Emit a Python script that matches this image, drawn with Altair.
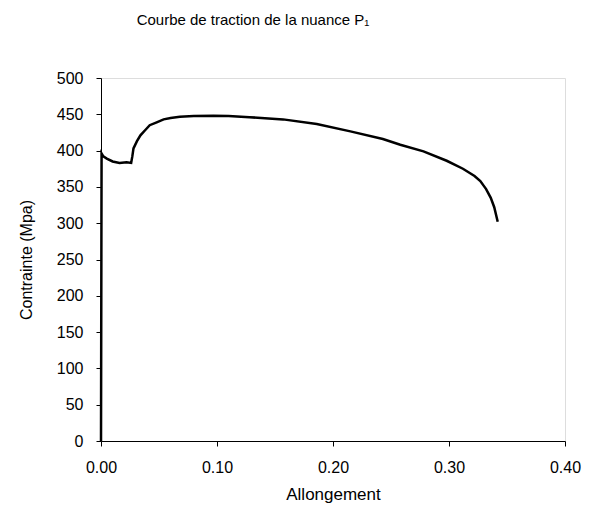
import altair as alt
import pandas as pd

allongement = [0.0, 0.0005, 0.002, 0.005, 0.010, 0.016, 0.022, 0.026, 0.027, 0.028,
               0.031, 0.034, 0.038, 0.042, 0.048, 0.054, 0.060, 0.068, 0.080, 0.097,
               0.110, 0.128, 0.157, 0.186, 0.215, 0.243, 0.258, 0.278, 0.298, 0.312,
               0.322, 0.327, 0.332, 0.336, 0.339, 0.342]
contrainte = [0, 396, 392, 389, 385, 383, 384, 383, 392, 403,
              413, 421, 428, 435, 439, 443, 445, 446.5, 447.5, 448,
              447.5, 446, 443, 436.5, 426.5, 416, 408, 399, 386, 375,
              365, 358, 347, 335, 322, 302]

df = pd.DataFrame({"Allongement": allongement, "Contrainte": contrainte,
                   "order": list(range(len(allongement)))})

FONT = "Liberation Sans"

chart = alt.Chart(df).mark_line(color="black", strokeWidth=2.5).encode(
    x=alt.X("Allongement:Q",
            scale=alt.Scale(domain=[0, 0.4], nice=False, zero=False),
            axis=alt.Axis(values=[0, 0.1, 0.2, 0.3, 0.4], format=".2f",
                          title="Allongement", grid=False,
                          domainColor="black", tickColor="black", tickSize=5,
                          labelColor="black", labelFont=FONT, labelFontSize=16,
                          labelPadding=13, titleFont=FONT, titleFontSize=17,
                          titleFontWeight="normal", titleColor="black",
                          titlePadding=11, labelFlush=False)),
    y=alt.Y("Contrainte:Q",
            scale=alt.Scale(domain=[0, 500], nice=False),
            axis=alt.Axis(values=list(range(0, 501, 50)),
                          title="Contrainte (Mpa)", grid=False,
                          domainColor="black", tickColor="black", tickSize=5,
                          labelColor="black", labelFont=FONT, labelFontSize=16,
                          labelPadding=13, titleFont=FONT, titleFontSize=16,
                          titleFontWeight="normal", titleColor="black",
                          titlePadding=22)),
    order="order:Q",
).properties(
    width=464,
    height=363,
    title=alt.TitleParams("Courbe de traction de la nuance P\u2081", font=FONT,
                          fontSize=15, fontWeight="normal", color="black",
                          anchor="middle", dx=-80, offset=42),
    autosize=alt.AutoSizeParams(type="none"),
    padding={"left": 93, "top": 70, "right": 18, "bottom": 62},
).configure_view(stroke=None).configure(background="white")

chart.save("out.html", embed_options={"renderer": "svg", "actions": False})
